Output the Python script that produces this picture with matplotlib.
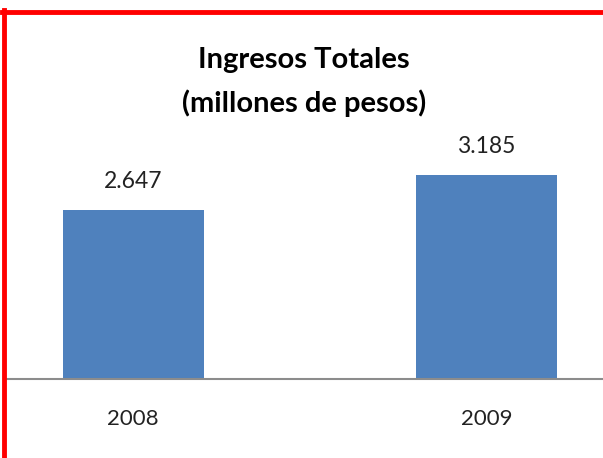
import matplotlib
matplotlib.use("Agg")
import matplotlib.pyplot as plt
from matplotlib.lines import Line2D

# --------------------------------------------------
# DATA
# --------------------------------------------------

years = ["2008", "2009"]
ingresos = [2647, 3185]
value_labels = ["2.647", "3.185"]

BAR_COLOR = "#4F81BD"
FONT = "Lato"
PX = 72 / 100  # points per pixel at dpi 100

# --------------------------------------------------
# FIGURE
# --------------------------------------------------

W, H = 603, 458
fig = plt.figure(figsize=(W / 100, H / 100), dpi=100)

# axes placed so that y=0 sits at pixel row 379, bars at x=133 / 486
ax = fig.add_axes([6 / W, 79 / H, 1 - 6 / W, 256 / H])
ax.bar(range(len(years)), ingresos, width=0.40, color=BAR_COLOR)
ax.set_xlim(-0.36, 1.33)
ax.set_ylim(0, 4000)

# value labels above the bars
for i, (v, lbl) in enumerate(zip(ingresos, value_labels)):
    ax.annotate(lbl, (i, v), xytext=(0, 22 * PX), textcoords="offset points",
                ha="center", va="baseline", fontsize=16.5, family=FONT,
                color="#222222")

# category labels under the axis line
for i, yr in enumerate(years):
    ax.annotate(yr, (i, 0), xytext=(0, -46 * PX), textcoords="offset points",
                ha="center", va="baseline", fontsize=16, family=FONT,
                color="#222222", annotation_clip=False)

ax.set_xticks([])
ax.set_yticks([])
for side in ["top", "right", "left"]:
    ax.spines[side].set_visible(False)
ax.spines["bottom"].set_color("#8C8C8C")
ax.spines["bottom"].set_linewidth(1.5)

# title
fig.text(304 / W, 1 - 68 / H, "Ingresos Totales", ha="center", va="baseline",
         fontsize=21, fontweight="bold", family=FONT)
fig.text(304 / W, 1 - 112 / H, "(millones de pesos)", ha="center", va="baseline",
         fontsize=21, fontweight="bold", family=FONT)

# red frame (top and left edges visible in the crop)
fig.add_artist(Line2D([2 / W, 1], [1 - 12 / H, 1 - 12 / H], color="red", lw=3.5))
fig.add_artist(Line2D([4 / W, 4 / W], [0, 1 - 10 / H], color="red", lw=3.5))

fig.savefig("out.png", dpi=100)
plt.close(fig)
